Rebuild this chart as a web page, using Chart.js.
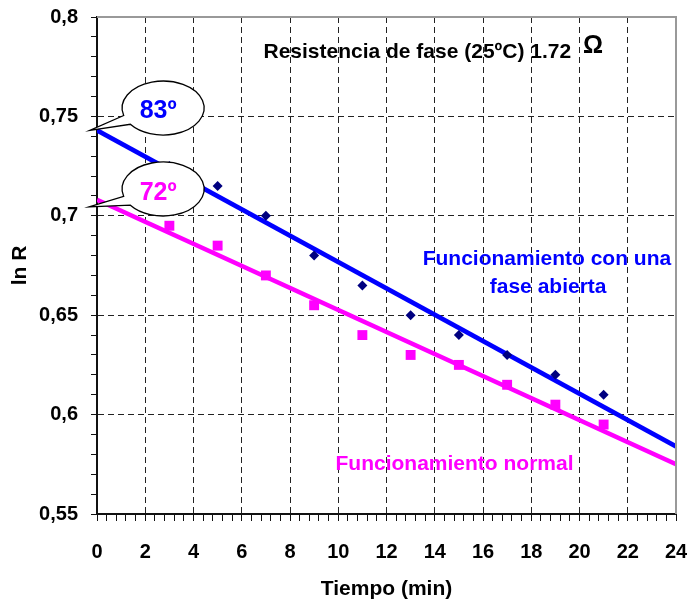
<!DOCTYPE html>
<html>
<head>
<meta charset="utf-8">
<script src="https://cdn.jsdelivr.net/npm/chart.js@4.4.0/dist/chart.umd.min.js"></script>
<style>
  html, body { margin: 0; padding: 0; background: #fff; }
  #wrap { width: 688px; height: 606px; }
</style>
</head>
<body>
<div id="wrap"><canvas id="lnrChart"></canvas></div>
<script>
// tiempos de medida (min) y ln R medido
var tiempos = [3, 5, 7, 9, 11, 13, 15, 17, 19, 21];
var lnRFaseAbierta = [0.725, 0.715, 0.700, 0.680, 0.665, 0.650, 0.640, 0.630, 0.620, 0.610];
var lnRNormal = [0.695, 0.685, 0.670, 0.655, 0.640, 0.630, 0.625, 0.615, 0.605, 0.595];

// rectas de ajuste, valores en t = 0 y t = 24
var ajusteT = [0, 24];
var ajusteFaseAbierta = [0.743, 0.584];
var ajusteNormal = [0.708, 0.575];

// marcas de los ejes
var xMarcas = [0, 2, 4, 6, 8, 10, 12, 14, 16, 18, 20, 22, 24];
var xEtiquetas = ['0', '2', '4', '6', '8', '10', '12', '14', '16', '18', '20', '22', '24'];
var yMarcas = [0.55, 0.6, 0.65, 0.7, 0.75, 0.8];
var yEtiquetas = ['0,55', '0,6', '0,65', '0,7', '0,75', '0,8'];

var FUENTE = "'Liberation Sans', Arial, Helvetica, sans-serif";
var AZUL = '#0000ff';
var MAGENTA = '#ff00ff';

function puntos(xs, ys) {
  return xs.map(function(x, i) { return { x: x, y: ys[i] }; });
}

function indiceMarca(marcas, v) {
  for (var i = 0; i < marcas.length; i++) {
    if (Math.abs(marcas[i] - v) < 1e-6) return i;
  }
  return -1;
}

// globo de texto con la punta hacia el eje
function globo(ctx, cx, cy, px, py) {
  var a1 = 164 * Math.PI / 180, a2 = (143 + 360) * Math.PI / 180;
  ctx.beginPath();
  ctx.ellipse(cx, cy, 41, 27, 0, a1, a2, false);
  ctx.lineTo(px, py);
  ctx.closePath();
  ctx.fillStyle = '#fff';
  ctx.fill();
  ctx.lineWidth = 1.3;
  ctx.strokeStyle = '#000';
  ctx.stroke();
}

function texto(ctx, str, x, y, size, color, align) {
  ctx.font = 'bold ' + size + 'px ' + FUENTE;
  ctx.fillStyle = color;
  ctx.textAlign = align;
  ctx.textBaseline = 'alphabetic';
  ctx.fillText(str, x, y);
}

var anotaciones = {
  id: 'anotaciones',
  afterDatasetsDraw: function(chart) {
    var ctx = chart.ctx, xs = chart.scales.x, ys = chart.scales.y, a = chart.chartArea;
    var X = function(v) { return xs.getPixelForValue(v); };
    var Y = function(v) { return ys.getPixelForValue(v); };
    ctx.save();

    // marco gris arriba y a la derecha
    ctx.strokeStyle = '#999';
    ctx.lineWidth = 2;
    ctx.beginPath();
    ctx.moveTo(a.left, a.top);
    ctx.lineTo(a.right, a.top);
    ctx.lineTo(a.right, a.bottom);
    ctx.stroke();

    texto(ctx, 'Resistencia de fase (25ºC) 1.72', X(6.9), Y(0.7792), 21, '#000', 'left');
    texto(ctx, 'Ω', X(20.15), Y(0.7817), 25, '#000', 'left');
    texto(ctx, 'Funcionamiento con una', X(18.65), Y(0.6753), 21, AZUL, 'center');
    texto(ctx, 'fase abierta', X(18.7), Y(0.661), 21, AZUL, 'center');
    texto(ctx, 'Funcionamiento normal', X(14.82), Y(0.5721), 21, MAGENTA, 'center');

    // temperaturas al arrancar
    globo(ctx, X(2.74), Y(0.7542), X(-0.3), Y(0.743));
    texto(ctx, '83º', X(2.74) - 5, Y(0.7542) + 10, 25, AZUL, 'center');
    globo(ctx, X(2.74), Y(0.7135), X(-0.33), Y(0.7045));
    texto(ctx, '72º', X(2.74) - 5, Y(0.7135) + 11, 25, MAGENTA, 'center');

    ctx.restore();
  }
};

var ctx = document.getElementById('lnrChart').getContext('2d');
new Chart(ctx, {
  type: 'scatter',
  data: {
    datasets: [{
      label: 'Funcionamiento con una fase abierta',
      data: puntos(tiempos, lnRFaseAbierta),
      pointStyle: 'rectRot',
      pointRadius: 5,
      backgroundColor: '#000080',
      borderColor: '#000080',
      borderWidth: 0
    }, {
      label: 'Funcionamiento normal',
      data: puntos(tiempos, lnRNormal),
      pointStyle: 'rect',
      pointRadius: 7,
      backgroundColor: MAGENTA,
      borderColor: MAGENTA,
      borderWidth: 0
    }, {
      type: 'line',
      label: 'Ajuste fase abierta',
      data: puntos(ajusteT, ajusteFaseAbierta),
      borderColor: AZUL,
      borderWidth: 4.5,
      pointRadius: 0,
      fill: false
    }, {
      type: 'line',
      label: 'Ajuste normal',
      data: puntos(ajusteT, ajusteNormal),
      borderColor: MAGENTA,
      borderWidth: 4.5,
      pointRadius: 0,
      fill: false
    }]
  },
  options: {
    responsive: true,
    maintainAspectRatio: false,
    animation: false,
    layout: { padding: { top: 17, right: 12, left: 0, bottom: 0 } },
    plugins: {
      legend: { display: false },
      tooltip: { enabled: false }
    },
    scales: {
      x: {
        type: 'linear',
        min: 0,
        max: 24,
        afterFit: function(s) {
          s.height = 92;
          s.paddingLeft = 0;
          s.paddingRight = 0;
        },
        border: { display: true, color: '#111', width: 2, dash: [6, 4] },
        grid: {
          color: function(c) {
            var v = c.tick ? c.tick.value : null;
            return v !== null && indiceMarca(xMarcas, v) > 0 && v < 23.9 ? '#222' : 'rgba(0,0,0,0)';
          },
          lineWidth: 1,
          tickColor: '#111',
          tickLength: 7,
          tickWidth: 1
        },
        ticks: {
          stepSize: 0.4,
          maxTicksLimit: 100,
          autoSkip: false,
          maxRotation: 0,
          padding: 19,
          color: '#000',
          font: { family: FUENTE, size: 20, weight: 'bold' },
          callback: function(v) {
            var i = indiceMarca(xMarcas, v);
            return i >= 0 ? xEtiquetas[i] : '';
          }
        },
        title: {
          display: true,
          text: 'Tiempo (min)',
          color: '#000',
          font: { family: FUENTE, size: 21, weight: 'bold' },
          padding: { top: 0, bottom: 4 }
        }
      },
      y: {
        type: 'linear',
        min: 0.55,
        max: 0.8,
        afterFit: function(s) {
          s.width = 97;
          s.paddingTop = 0;
          s.paddingBottom = 0;
        },
        border: { display: true, color: '#111', width: 2, dash: [6, 4] },
        grid: {
          color: function(c) {
            var v = c.tick ? c.tick.value : null;
            return v !== null && indiceMarca(yMarcas, v) > 0 && v < 0.799 ? '#222' : 'rgba(0,0,0,0)';
          },
          lineWidth: 1,
          tickColor: '#111',
          tickLength: 6,
          tickWidth: 1
        },
        ticks: {
          stepSize: 0.01,
          maxTicksLimit: 100,
          autoSkip: false,
          padding: 13,
          color: '#000',
          font: { family: FUENTE, size: 20, weight: 'bold' },
          callback: function(v) {
            var i = indiceMarca(yMarcas, v);
            return i >= 0 ? yEtiquetas[i] : '';
          }
        },
        title: {
          display: true,
          text: 'ln R',
          color: '#000',
          font: { family: FUENTE, size: 21, weight: 'bold' },
          padding: { top: 8, bottom: 0 }
        }
      }
    }
  },
  plugins: [anotaciones]
});
</script>
</body>
</html>
